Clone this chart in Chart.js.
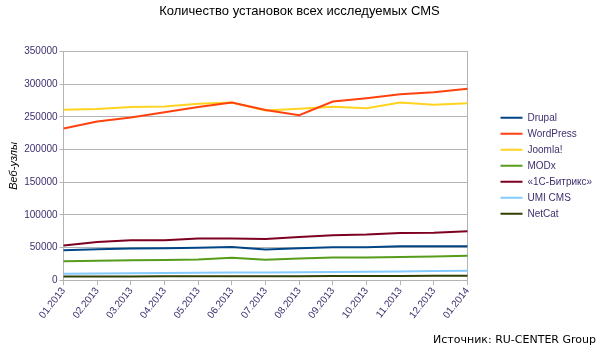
<!DOCTYPE html>
<html>
<head>
<meta charset="utf-8">
<script src="https://cdn.jsdelivr.net/npm/chart.js@4/dist/chart.umd.min.js"></script>
<style>
  html, body { margin: 0; padding: 0; background: #fff; }
  #wrap { position: relative; width: 600px; height: 349px; }
  #source { position: absolute; right: 4px; bottom: 3px; font: 11px "DejaVu Sans", Verdana, sans-serif; color: #000; }
</style>
</head>
<body>
<div id="wrap">
  <canvas id="c" width="600" height="349"></canvas>
  <div id="source">Источник: RU-CENTER Group</div>
</div>
<script>
const categories = ["01.2013","02.2013","03.2013","04.2013","05.2013","06.2013","07.2013","08.2013","09.2013","10.2013","11.2013","12.2013","01.2014"];
const seriesNames = ["Drupal","WordPress","Joomla!","MODx","«1С-Битрикс»","UMI CMS","NetCat"];
const drupal    = [45900, 47400, 48400, 48900, 49400, 50900, 46900, 48900, 50400, 50400, 52000, 52000, 52000];
const wordpress = [232300, 243000, 249000, 257000, 265000, 272000, 260500, 252500, 273600, 278600, 284700, 287800, 293000];
const joomla    = [261000, 262000, 265000, 266000, 270000, 272000, 259800, 262400, 265500, 263400, 272000, 268500, 271000];
const modx      = [29000, 29700, 30500, 31000, 31500, 34100, 31100, 33100, 34600, 34600, 35600, 36100, 37200];
const bitrix    = [53000, 58500, 61100, 61000, 63700, 63700, 63000, 66200, 68800, 69800, 72300, 72500, 74900];
const umi       = [9600, 10200, 10600, 11000, 11300, 11600, 11800, 12200, 12600, 13000, 13400, 13800, 14200];
const netcat    = [5500, 5600, 5700, 5800, 5900, 6000, 5900, 6100, 6200, 6300, 6500, 6600, 6800];
const yTicks = [0, 50000, 100000, 150000, 200000, 250000, 300000, 350000];

const colors = ["#004586","#ff420e","#ffd320","#579d1c","#7e0021","#83caff","#314004"];
const values = [drupal, wordpress, joomla, modx, bitrix, umi, netcat];
const textColor = "#3f2f6e";
const gridColor = "#b3b3b3";
const fontFam = "Liberation Sans, Arial, sans-serif";

const datasets = seriesNames.map((n, i) => ({
  label: n,
  data: values[i],
  borderColor: colors[i],
  backgroundColor: colors[i],
  borderWidth: 2,
  pointRadius: 0,
  tension: 0,
  fill: false,
  yAxisID: "y"
}));

new Chart(document.getElementById("c"), {
  type: "line",
  data: { labels: categories, datasets },
  options: {
    responsive: false,
    animation: false,
    layout: { padding: { left: 7, right: 8, top: 2, bottom: 28 } },
    plugins: {
      title: {
        display: true,
        text: "Количество установок всех исследуемых CMS",
        color: "#000",
        font: { family: fontFam, size: 13, weight: "normal" },
        padding: { top: 2, bottom: 32 }
      },
      legend: {
        position: "right",
        fullSize: false,
        labels: {
          color: textColor,
          font: { family: fontFam, size: 10 },
          boxWidth: 22,
          boxHeight: 2,
          padding: 6,
          generateLabels: (chart) => chart.data.datasets.map((d, i) => ({
            text: d.label,
            fillStyle: d.borderColor,
            strokeStyle: d.borderColor,
            lineWidth: 0,
            fontColor: textColor,
            datasetIndex: i,
            hidden: false
          }))
        }
      },
      tooltip: { enabled: false }
    },
    scales: {
      x: {
        offset: false,
        grid: {
          color: "transparent",
          tickColor: gridColor,
          tickLength: 5,
          drawOnChartArea: false
        },
        border: { color: gridColor },
        ticks: {
          color: textColor,
          font: { family: fontFam, size: 10 },
          minRotation: 52,
          maxRotation: 52,
          autoSkip: false,
          padding: 0
        }
      },
      y: {
        min: 0,
        max: 350000,
        afterBuildTicks: (axis) => { axis.ticks = yTicks.map(v => ({ value: v })); },
        grid: { color: gridColor, tickColor: gridColor, tickLength: 4 },
        border: { color: gridColor },
        title: {
          display: true,
          text: "Веб-узлы",
          color: "#000",
          font: { family: fontFam, size: 11, style: "italic" },
          padding: { top: 0, bottom: 2 }
        },
        ticks: {
          color: textColor,
          font: { family: fontFam, size: 10 },
          padding: 2,
          callback: (v) => String(v)
        }
      },
      y2: {
        position: "right",
        min: 0,
        max: 350000,
        grid: { drawOnChartArea: false, drawTicks: false },
        border: { display: true, color: gridColor },
        ticks: { display: false },
        afterFit: (axis) => { axis.width = 27; }
      }
    }
  }
});
</script>
</body>
</html>
